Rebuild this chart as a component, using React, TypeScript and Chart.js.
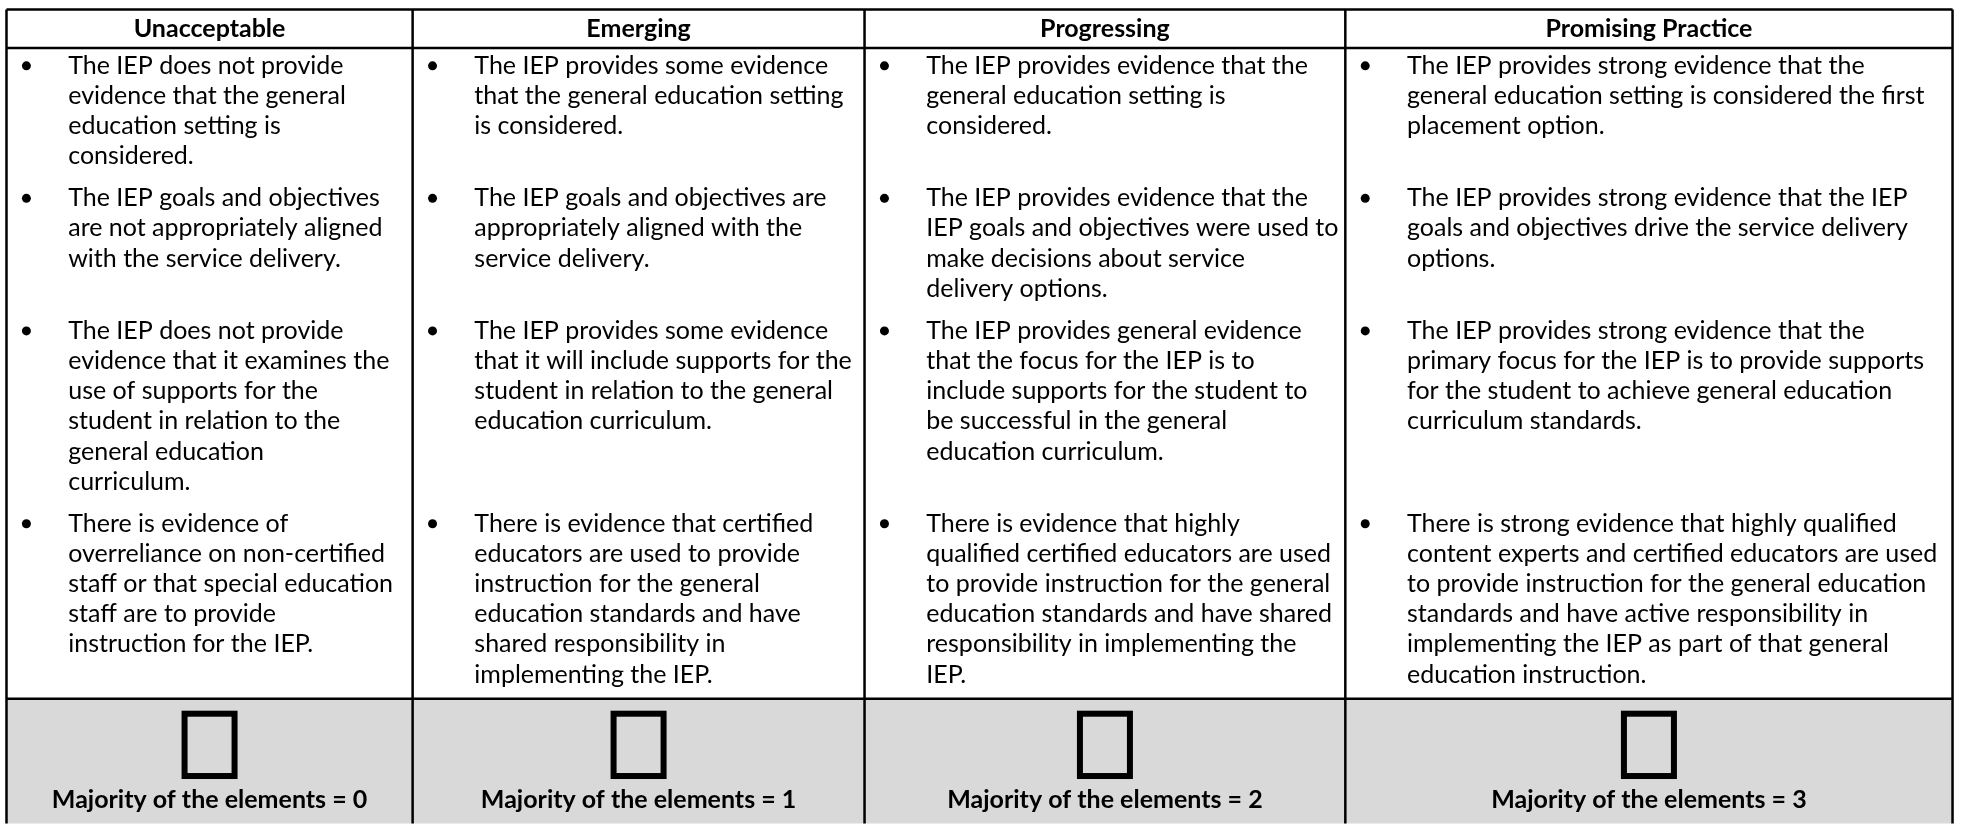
import React, { useEffect, useRef } from "react";
import { Chart, registerables } from "chart.js";

Chart.register(...registerables);

// ---------- DATA ----------
const HEADERS = ["Unacceptable", "Emerging", "Progressing", "Promising Practice"];

const UNACCEPTABLE = [
  ["The IEP does not provide", "evidence that the general", "education setting is", "considered."],
  ["The IEP goals and objectives", "are not appropriately aligned", "with the service delivery."],
  ["The IEP does not provide", "evidence that it examines the", "use of supports for the", "student in relation to the", "general education", "curriculum."],
  ["There is evidence of", "overreliance on non-certified", "staff or that special education", "staff are to provide", "instruction for the IEP."],
];

const EMERGING = [
  ["The IEP provides some evidence", "that the general education setting", "is considered."],
  ["The IEP goals and objectives are", "appropriately aligned with the", "service delivery."],
  ["The IEP provides some evidence", "that it will include supports for the", "student in relation to the general", "education curriculum."],
  ["There is evidence that certified", "educators are used to provide", "instruction for the general", "education standards and have", "shared responsibility in", "implementing the IEP."],
];

const PROGRESSING = [
  ["The IEP provides evidence that the", "general education setting is", "considered."],
  ["The IEP provides evidence that the", "IEP goals and objectives were used to", "make decisions about service", "delivery options."],
  ["The IEP provides general evidence", "that the focus for the IEP is to", "include supports for the student to", "be successful in the general", "education curriculum."],
  ["There is evidence that highly", "qualified certified educators are used", "to provide instruction for the general", "education standards and have shared", "responsibility in implementing the", "IEP."],
];

const PROMISING = [
  ["The IEP provides strong evidence that the", "general education setting is considered the first", "placement option."],
  ["The IEP provides strong evidence that the IEP", "goals and objectives drive the service delivery", "options."],
  ["The IEP provides strong evidence that the", "primary focus for the IEP is to provide supports", "for the student to achieve general education", "curriculum standards."],
  ["There is strong evidence that highly qualified", "content experts and certified educators are used", "to provide instruction for the general education", "standards and have active responsibility in", "implementing the IEP as part of that general", "education instruction."],
];

const SCORES = [0, 1, 2, 3];
const FOOTER_LABEL = "Majority of the elements";

// ---------- LAYOUT (table units) ----------
const W = 1963;
const H = 828;
const COL_EDGES = [2, 410, 864, 1347, 1957];
const TOP = 5;
const HEAD_BOTTOM = 44;
const FOOT_TOP = 702;
const FIRST_BASELINE = 70;
const LINE = 30.5;
const GAP = 12;
const BULLET_DX = 20;
const TEXT_DX = 62;
const FONT = "Lato, 'Open Sans', sans-serif";

const COLUMNS = [UNACCEPTABLE, EMERGING, PROGRESSING, PROMISING];

function groupStarts(): number[] {
  const starts: number[] = [];
  let y = FIRST_BASELINE;
  for (let g = 0; g < 4; g++) {
    starts.push(y);
    const maxLines = Math.max(...COLUMNS.map((c) => c[g].length));
    y += maxLines * LINE + GAP;
  }
  return starts;
}

const tablePlugin = {
  id: "tablePlugin",
  beforeDatasetsDraw(chart: any) {
    const ctx: CanvasRenderingContext2D = chart.ctx;
    const sx = chart.scales.x;
    const sy = chart.scales.y;
    const px = (v: number) => sx.getPixelForValue(v);
    const py = (v: number) => sy.getPixelForValue(v);
    ctx.save();
    // footer gray cells
    ctx.fillStyle = "#d9d9d9";
    for (let c = 0; c < 4; c++) {
      ctx.fillRect(px(COL_EDGES[c]), py(FOOT_TOP), px(COL_EDGES[c + 1]) - px(COL_EDGES[c]), py(H) - py(FOOT_TOP));
    }
    // headers
    ctx.fillStyle = "#000";
    ctx.textBaseline = "alphabetic";
    ctx.textAlign = "center";
    ctx.font = `bold 25px ${FONT}`;
    for (let c = 0; c < 4; c++) {
      const cx = (px(COL_EDGES[c]) + px(COL_EDGES[c + 1])) / 2;
      ctx.fillText(HEADERS[c], cx, py(33));
    }
    // body text
    const starts = groupStarts();
    ctx.textAlign = "left";
    ctx.font = `25px ${FONT}`;
    for (let c = 0; c < 4; c++) {
      const x0 = px(COL_EDGES[c] + TEXT_DX);
      const maxW = px(COL_EDGES[c + 1]) - x0 - 6;
      COLUMNS[c].forEach((lines, g) => {
        lines.forEach((t, i) => {
          ctx.fillText(t, x0, py(starts[g] + i * LINE), maxW);
        });
      });
    }
    // checkboxes and footer labels
    for (let c = 0; c < 4; c++) {
      const cx = (px(COL_EDGES[c]) + px(COL_EDGES[c + 1])) / 2;
      ctx.lineWidth = 6;
      ctx.strokeStyle = "#000";
      const bw = 50;
      const top = py(FOOT_TOP + 15);
      const bot = py(FOOT_TOP + 78);
      ctx.strokeRect(cx - bw / 2, top, bw, bot - top);
      ctx.font = `bold 25px ${FONT}`;
      ctx.textAlign = "center";
      ctx.fillText(`${FOOTER_LABEL} = ${SCORES[c]}`, cx, py(FOOT_TOP + 110));
    }
    // grid lines
    ctx.strokeStyle = "#000";
    ctx.lineWidth = 2.5;
    ctx.beginPath();
    for (const yv of [TOP, HEAD_BOTTOM, FOOT_TOP]) {
      ctx.moveTo(px(COL_EDGES[0]), py(yv));
      ctx.lineTo(px(COL_EDGES[4]), py(yv));
    }
    for (const xv of COL_EDGES) {
      ctx.moveTo(px(xv), py(TOP));
      ctx.lineTo(px(xv), py(H));
    }
    ctx.stroke();
    ctx.restore();
  },
};

export default function App() {
  const ref = useRef<HTMLCanvasElement | null>(null);
  useEffect(() => {
    document.body.style.margin = "0";
    const starts = groupStarts();
    const bullets: { x: number; y: number }[] = [];
    for (let c = 0; c < 4; c++) {
      for (let g = 0; g < 4; g++) {
        bullets.push({ x: COL_EDGES[c] + BULLET_DX, y: starts[g] - 8 });
      }
    }
    const chart = new Chart(ref.current as HTMLCanvasElement, {
      type: "scatter",
      data: {
        datasets: [
          {
            label: "bullets",
            data: bullets,
            pointRadius: 4.5,
            pointHoverRadius: 4.5,
            backgroundColor: "#000",
            borderWidth: 0,
          },
        ],
      },
      options: {
        responsive: false,
        animation: false,
        devicePixelRatio: 1,
        layout: { padding: 0 },
        plugins: { legend: { display: false }, tooltip: { enabled: false } },
        events: [],
        scales: {
          x: { type: "linear", min: 0, max: W, display: false },
          y: { type: "linear", min: 0, max: H, reverse: true, display: false },
        },
      },
      plugins: [tablePlugin],
    });
    let alive = true;
    (document as any).fonts?.load?.(`25px Lato`).then(() => {
      if (alive) chart.update();
    });
    return () => {
      alive = false;
      chart.destroy();
    };
  }, []);
  return (
    <div style={{ position: "absolute", left: 0, top: 0, width: W, height: H, background: "#fff" }}>
      <canvas ref={ref} width={W} height={H} style={{ width: W, height: H, display: "block" }} />
    </div>
  );
}
